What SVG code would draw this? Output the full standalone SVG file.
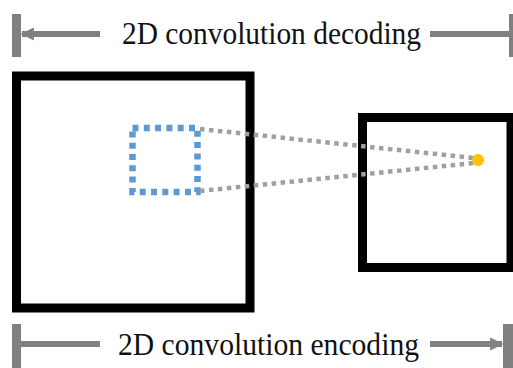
<svg xmlns="http://www.w3.org/2000/svg" width="513" height="368" viewBox="0 0 513 368">
  <style>
    .frame { fill: none; stroke: #000; stroke-width: 9; }
    .kernel { fill: none; stroke: #5B9BD5; stroke-width: 6.5; stroke-dasharray: 6 5.3; }
    .ray { fill: none; stroke: #A0A0A0; stroke-width: 4.5; stroke-dasharray: 4.5 4.5; }
    .dim { fill: none; stroke: #808080; stroke-width: 6; }
    .bar { fill: #808080; }
    .label { font-family: "Liberation Serif", "Times New Roman", serif; font-size: 31px; fill: #111; }
  </style>
  <defs>
    <marker id="head" viewBox="0 0 10 10" refX="9" refY="5" markerWidth="2.2" markerHeight="2.8" orient="auto-start-reverse" markerUnits="strokeWidth">
      <path d="M0,0 L10,5 L0,10 Z" fill="#808080"/>
    </marker>
  </defs>
  <rect width="513" height="368" fill="#fff"/>

  <!-- decoding dimension line (top) -->
  <g id="decoding">
    <rect class="bar" x="12" y="14" width="9" height="43"/>
    <rect class="bar" x="509" y="14" width="9" height="43"/>
    <line class="dim" x1="22" y1="34" x2="100" y2="34" marker-start="url(#head)"/>
    <line class="dim" x1="430" y1="34" x2="510" y2="34"/>
    <text class="label" x="122" y="44" textLength="299" lengthAdjust="spacingAndGlyphs">2D convolution decoding</text>
  </g>

  <!-- input feature map -->
  <g id="input-map">
    <rect class="frame" x="16.5" y="76" width="233.5" height="232"/>
  </g>

  <!-- kernel window -->
  <g id="kernel">
    <rect class="kernel" x="132.5" y="128" width="65" height="64"/>
  </g>

  <!-- output feature map -->
  <g id="output-map">
    <rect class="frame" x="362.5" y="117.5" width="148.5" height="150"/>
  </g>

  <!-- receptive field rays -->
  <g id="connectors">
    <line class="ray" x1="200" y1="129" x2="474" y2="158"/>
    <line class="ray" x1="200" y1="191" x2="474" y2="163"/>
  </g>

  <!-- output pixel -->
  <g id="output-pixel">
    <circle cx="478" cy="160" r="6" fill="#FFC000"/>
  </g>

  <!-- encoding dimension line (bottom) -->
  <g id="encoding">
    <rect class="bar" x="12" y="324" width="9" height="44"/>
    <rect class="bar" x="503" y="324" width="10" height="44"/>
    <line class="dim" x1="21" y1="344" x2="100" y2="344"/>
    <line class="dim" x1="430" y1="344" x2="502" y2="344" marker-end="url(#head)"/>
    <text class="label" x="118" y="355" textLength="301" lengthAdjust="spacingAndGlyphs">2D convolution encoding</text>
  </g>
</svg>
